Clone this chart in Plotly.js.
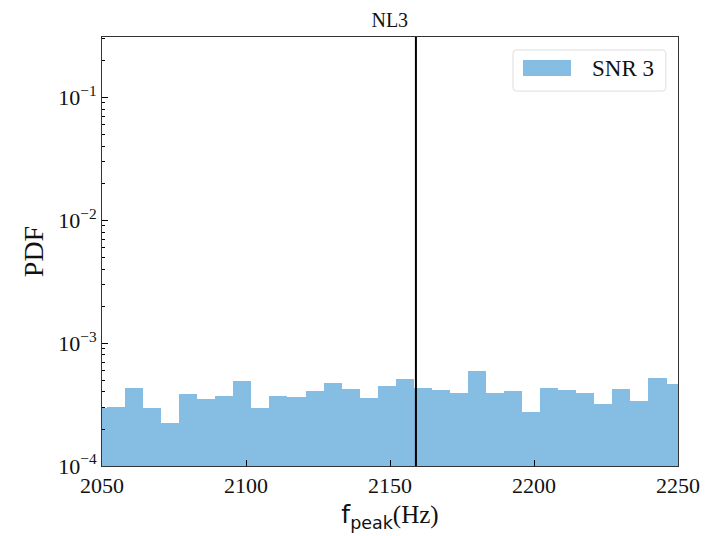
<!DOCTYPE html>
<html>
<head>
<meta charset="utf-8">
<script src="https://cdn.plot.ly/plotly-3.0.1.min.js"></script>
<style>html,body{margin:0;padding:0;background:#fff;}#chart{width:710px;height:536px;}</style>
</head>
<body>
<div id="chart"></div>
<script>
// Histogram bins (Hz): first edge and bin width
const binStart = 2045.47;
const binWidth = 6.267;
// PDF value of each bin (SNR 3)
const pdfValues = [2.98e-4, 3.03e-4, 4.33e-4, 2.94e-4, 2.22e-4, 3.83e-4, 3.51e-4, 3.73e-4, 4.94e-4,
  2.94e-4, 3.71e-4, 3.66e-4, 4.07e-4, 4.70e-4, 4.23e-4, 3.59e-4, 4.47e-4,
  5.07e-4, 4.33e-4, 4.15e-4, 3.94e-4, 5.92e-4, 3.94e-4, 4.07e-4, 2.76e-4,
  4.33e-4, 4.15e-4, 3.94e-4, 3.19e-4, 4.23e-4, 3.38e-4, 5.16e-4, 4.67e-4];
const trueValue = 2159;   // vertical line (Hz)
const xTicks = [2050, 2100, 2150, 2200, 2250];
const yTicks = [1e-4, 1e-3, 1e-2, 1e-1];
const yTickText = ['10<sup>\u22124</sup>', '10<sup>\u22123</sup>', '10<sup>\u22122</sup>', '10<sup>\u22121</sup>'];
const seriesName = 'SNR 3';
const titleText = 'NL3';

const centers = pdfValues.map((v, i) => binStart + binWidth * (i + 0.5));
const minorVals = [];
for (let e = -4; e < 0; e++) for (let d = 2; d <= 9; d++) minorVals.push(d * Math.pow(10, e));

const serif = 'Liberation Serif, Times New Roman, serif';
const barColor = '#85bde3';

const traces = [{
  type: 'bar', x: centers, y: pdfValues, width: pdfValues.map(() => binWidth),
  marker: {color: barColor, line: {width: 0}}, name: seriesName, showlegend: false,
  hoverinfo: 'skip'
}];

const layout = {
  width: 710, height: 536,
  margin: {l: 102, r: 32, t: 37, b: 70},
  paper_bgcolor: '#fff', plot_bgcolor: '#fff',
  bargap: 0,
  title: {text: titleText, font: {family: serif, size: 20, color: '#111'}, x: 0.549, xanchor: 'center', y: 0.962, yanchor: 'middle'},
  xaxis: {
    range: [2050, 2250], tickvals: xTicks, ticktext: xTicks.map(String),
    ticks: 'inside', ticklen: 6, tickwidth: 1, tickcolor: '#000',
    showgrid: false, zeroline: false, showline: true, linecolor: '#333', linewidth: 1, mirror: true,
    tickfont: {family: serif, size: 22, color: '#111'},
    title: {text: 'f<sub>peak</sub><span style="font-family:Liberation Serif">(Hz)</span>', font: {family: 'DejaVu Sans, sans-serif', size: 25, color: '#111'}, standoff: 8}
  },
  yaxis: {
    type: 'log', range: [-4, -0.51], tickvals: yTicks, ticktext: yTickText,
    ticks: 'inside', ticklen: 6, tickwidth: 1, tickcolor: '#000',
    minor: {tickvals: minorVals, ticks: 'inside', ticklen: 3, tickwidth: 1, tickcolor: '#000', showgrid: false},
    showgrid: false, zeroline: false, showline: true, linecolor: '#333', linewidth: 1, mirror: true,
    tickfont: {family: serif, size: 22, color: '#111'},
    title: {text: 'PDF', font: {family: serif, size: 28, color: '#111'}, standoff: 6}
  },
  shapes: [
    {type: 'line', xref: 'x', yref: 'paper', x0: trueValue, x1: trueValue, y0: 0, y1: 1, line: {color: '#000', width: 2}},
    {type: 'path', xref: 'paper', yref: 'paper',
     path: 'M 0.7205 0.9697 L 0.972 0.9697 Q 0.979 0.9697 0.979 0.960 L 0.979 0.884 Q 0.979 0.874 0.972 0.874 L 0.7205 0.874 Q 0.7135 0.874 0.7135 0.884 L 0.7135 0.960 Q 0.7135 0.9697 0.7205 0.9697 Z',
     line: {color: '#dddddd', width: 1}, fillcolor: 'rgba(255,255,255,0.8)'},
    {type: 'rect', xref: 'paper', yref: 'paper', x0: 0.7309, x1: 0.8142, y0: 0.9091, y1: 0.9464, line: {width: 0}, fillcolor: barColor}
  ],
  annotations: [
    {xref: 'paper', yref: 'paper', x: 0.847, y: 0.9277, xanchor: 'left', yanchor: 'middle', showarrow: false,
     text: seriesName, font: {family: serif, size: 23, color: '#111'}}
  ]
};

Plotly.newPlot('chart', traces, layout, {displayModeBar: false, staticPlot: true});
</script>
</body>
</html>
